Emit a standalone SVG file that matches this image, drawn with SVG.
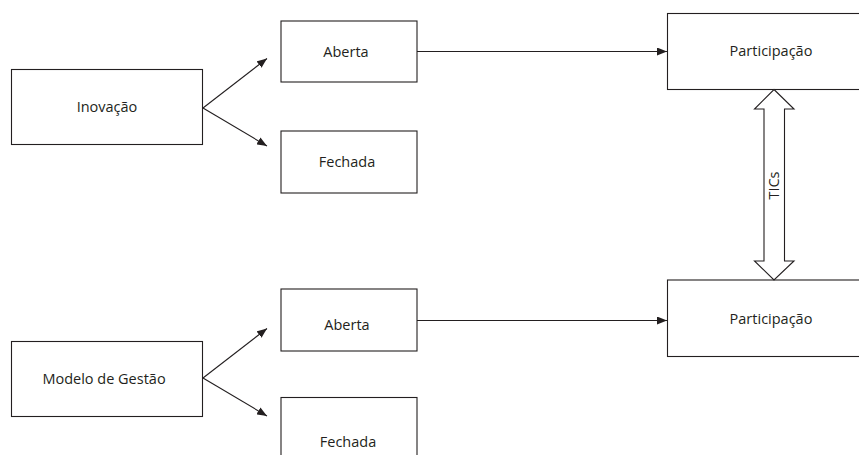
<svg xmlns="http://www.w3.org/2000/svg" width="859" height="455" viewBox="0 0 859 455">
  <defs>
    <marker id="arrow" viewBox="0 0 10 8" refX="10" refY="4" markerWidth="10" markerHeight="8" markerUnits="userSpaceOnUse" orient="auto">
      <path d="M0,0 L10,4 L0,8 Z" fill="#231f20"/>
    </marker>
  </defs>
  <style>
    .box { fill: #ffffff; stroke: #231f20; stroke-width: 1.1; }
    .label { font-family: "Open Sans", "Noto Sans", sans-serif; font-size: 14.5px; fill: #231f20; text-anchor: middle; }
    .edge { fill: none; stroke: #231f20; stroke-width: 1.1; marker-end: url(#arrow); }
    .dbl { fill: #ffffff; stroke: #231f20; stroke-width: 1.1; }
  </style>
  <rect width="859" height="455" fill="#ffffff"/>

  <!-- upper row -->
  <g id="inovacao">
    <rect class="box" x="11.5" y="69.5" width="191" height="75"/>
    <text class="label" x="107" y="112">Inovação</text>
  </g>
  <g id="aberta-1">
    <rect class="box" x="281" y="21" width="136" height="61"/>
    <text class="label" x="346" y="57">Aberta</text>
  </g>
  <g id="fechada-1">
    <rect class="box" x="281" y="131" width="136" height="62"/>
    <text class="label" x="347" y="167">Fechada</text>
  </g>
  <g id="participacao-1">
    <rect class="box" x="667.5" y="13.5" width="210" height="76"/>
    <text class="label" x="771" y="56">Participação</text>
  </g>

  <!-- lower row -->
  <g id="modelo-gestao">
    <rect class="box" x="11.5" y="341.5" width="191" height="75"/>
    <text class="label" x="104" y="384">Modelo de Gestão</text>
  </g>
  <g id="aberta-2">
    <rect class="box" x="281" y="289" width="136" height="62"/>
    <text class="label" x="347" y="330">Aberta</text>
  </g>
  <g id="fechada-2">
    <rect class="box" x="281" y="397.5" width="136" height="80"/>
    <text class="label" x="348" y="447">Fechada</text>
  </g>
  <g id="participacao-2">
    <rect class="box" x="667.5" y="280" width="210" height="76.5"/>
    <text class="label" x="771" y="324">Participação</text>
  </g>

  <!-- two-way TICs link between the participation boxes -->
  <g id="tics">
    <polygon class="dbl" points="774,89.5 794,109 784.5,109 784.5,261 794,261 774,280 754.5,261 764,261 764,109 754.5,109"/>
    <text class="label" transform="translate(779,185.5) rotate(-90)" x="0" y="0">TICs</text>
  </g>

  <g id="connectors">
    <line class="edge" x1="203" y1="108" x2="267" y2="58.5"/>
    <line class="edge" x1="203" y1="108" x2="267" y2="146"/>
    <line class="edge" x1="417" y1="51.5" x2="667" y2="51.5"/>
    <line class="edge" x1="203" y1="378" x2="267" y2="328.5"/>
    <line class="edge" x1="203" y1="378" x2="267" y2="416"/>
    <line class="edge" x1="417" y1="320.5" x2="667" y2="320.5"/>
  </g>
</svg>
